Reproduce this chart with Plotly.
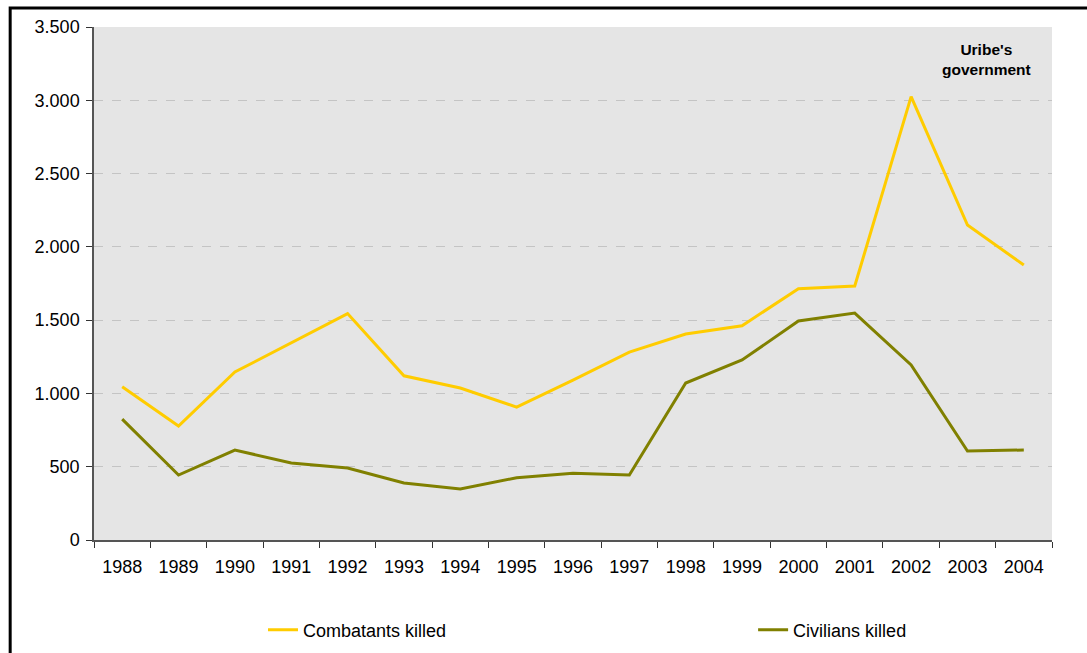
import plotly.graph_objects as go

years = [str(y) for y in range(1988, 2005)]
combatants = [1045, 778, 1146, 1344, 1545, 1120, 1037, 907, 1091, 1282,
              1405, 1462, 1715, 1733, 3025, 2149, 1876]
civilians = [825, 443, 614, 525, 491, 389, 348, 425, 455, 443,
             1071, 1228, 1494, 1548, 1194, 607, 614]

y_ticks = [0, 500, 1000, 1500, 2000, 2500, 3000, 3500]
y_labels = ["0", "500", "1.000", "1.500", "2.000", "2.500", "3.000", "3.500"]

event_year = "2002"
event_label = "Uribe's<br>government"

FONT = "Liberation Sans, Arial, sans-serif"

fig = go.Figure()

fig.add_trace(go.Scatter(
    x=years, y=combatants, mode="lines", name="Combatants killed",
    line=dict(color="#ffcc00", width=3), legend="legend",
))
fig.add_trace(go.Scatter(
    x=years, y=civilians, mode="lines", name="Civilians killed",
    line=dict(color="#808000", width=3), legend="legend2",
))

# vertical marker for the change of government
fig.add_shape(type="line", xref="x", yref="y",
              x0=event_year, x1=event_year, y0=0, y1=3500,
              line=dict(color="black", width=1.3))
fig.add_annotation(x=15.33, y=3275, xref="x", yref="y",
                   text=event_label, showarrow=False,
                   font=dict(family=FONT, size=15.5, color="black", weight="bold"))

# outer frame (cut off at right and bottom like the source)
fig.add_shape(type="rect", xref="paper", yref="paper",
              x0=-0.0875, x1=1.2, y0=-0.5, y1=1.037,
              line=dict(color="black", width=3))

# legends sit in the container so they don't push the plot margins
legend_style = dict(orientation="h", yref="container", yanchor="middle", y=0.035,
                    xanchor="left", font=dict(size=18), bgcolor="rgba(0,0,0,0)")

fig.update_layout(
    width=1087, height=653,
    paper_bgcolor="white",
    plot_bgcolor="#e5e5e5",
    margin=dict(l=94, r=35, t=27, b=113, autoexpand=False),
    font=dict(family=FONT, size=18, color="black"),
    xaxis=dict(
        type="category", range=[-0.5, 16.5],
        tickson="boundaries", ticks="outside", ticklen=6, tickcolor="#333",
        ticklabelstandoff=10,
        showline=True, linecolor="#555", linewidth=1.5,
        showgrid=False, zeroline=False,
    ),
    yaxis=dict(
        range=[0, 3500], tickvals=y_ticks, ticktext=y_labels,
        ticks="outside", ticklen=6, tickcolor="#333",
        ticklabelstandoff=3,
        showline=True, linecolor="#555", linewidth=1.5,
        showgrid=True, gridcolor="#c4c4c4", griddash="dash", gridwidth=1,
        zeroline=False,
    ),
    legend=dict(x=0.1764, **legend_style),
    legend2=dict(x=0.688, **legend_style),
    showlegend=True,
)

fig.write_html("out.html", config={"displayModeBar": False},
               post_script="document.body.style.margin='0';")
